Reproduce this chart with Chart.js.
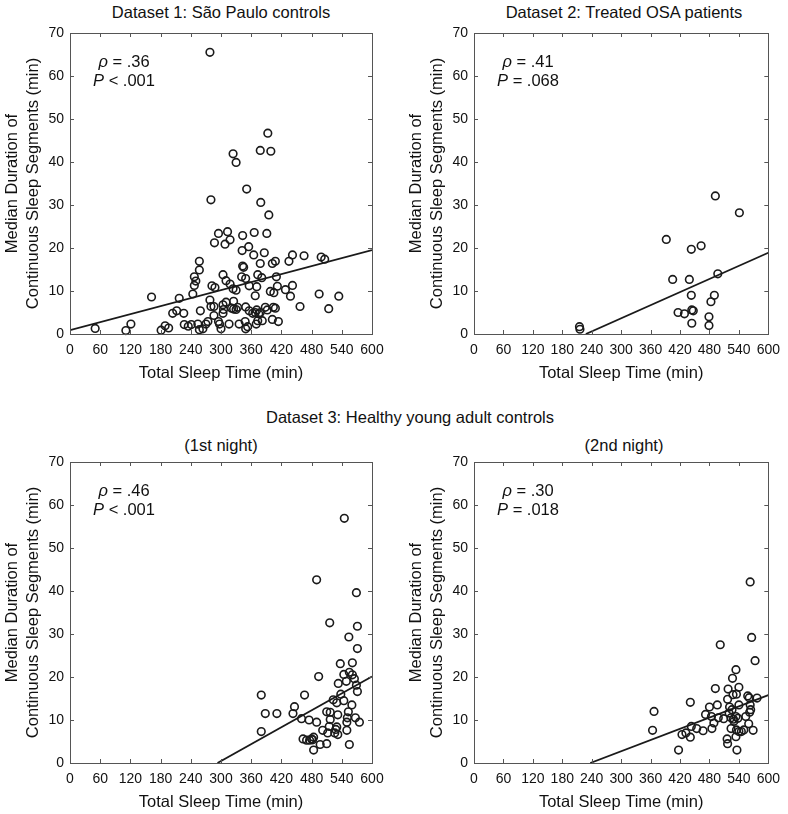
<!DOCTYPE html>
<html>
<head>
<script src="https://cdn.jsdelivr.net/npm/chart.js@4/dist/chart.umd.min.js"></script>
<style>
  body { margin: 0; width: 788px; height: 814px; position: relative; overflow: hidden; background: #fff;
         font-family: "Liberation Sans", Arial, sans-serif; color: #111; }
  canvas { position: absolute; }
  .ttl { position: absolute; font-size: 16.5px; white-space: nowrap; transform: translate(-50%, -50%); }
</style>
</head>
<body>
<div class="ttl" style="left:221px;top:12px">Dataset 1: São Paulo controls</div>
<div class="ttl" style="left:624px;top:12px">Dataset 2: Treated OSA patients</div>
<div class="ttl" style="left:410px;top:417px">Dataset 3: Healthy young adult controls</div>
<div class="ttl" style="left:221px;top:445px">(1st night)</div>
<div class="ttl" style="left:624px;top:445px">(2nd night)</div>
<canvas id="c1" width="392" height="385" style="left:0;top:0"></canvas>
<canvas id="c2" width="384" height="385" style="left:404px;top:0"></canvas>
<canvas id="c3" width="392" height="374" style="left:0;top:440px"></canvas>
<canvas id="c4" width="384" height="374" style="left:404px;top:440px"></canvas>
<script>
// Dataset 1: Sao Paulo controls
const tst1 = [278,393,378,399,324,330,351,280,379,395,295,313,287,308,318,343,366,391,342,355,
  365,386,378,402,408,435,442,465,499,506,343,345,257,257,247,247,244,304,310,318,
  324,330,341,349,356,371,373,381,410,412,398,405,428,442,438,495,534,457,514,368,
  282,288,162,217,212,204,226,121,111,50,181,189,196,227,235,241,254,257,264,270,
  274,259,278,280,286,286,295,297,300,304,304,305,310,316,321,325,325,330,333,336,
  348,349,353,349,356,363,368,371,375,378,370,373,382,388,392,404,408,402,414,250];
const med1 = [65.5,46.7,42.7,42.5,41.9,39.9,33.7,31.2,30.6,27.7,23.4,23.8,21.2,20.9,21.9,22.9,23.6,23.4,19.4,20.3,
  18.4,18.9,16.4,16.4,16.9,16.9,18.4,18.2,17.9,17.4,15.8,15.5,16.9,14.9,13.3,11.3,9.3,13.8,12.4,11.6,
  10.5,10.2,13.3,12.9,11.2,11.0,13.8,13.1,13.3,11.1,9.9,9.6,10.3,11.3,8.8,9.3,8.8,6.4,5.9,8.9,
  11.2,10.8,8.6,8.3,5.4,4.8,4.8,2.3,0.8,1.3,0.9,1.9,1.4,2.2,1.8,2.2,2.3,1.0,1.2,2.3,
  2.9,5.4,7.9,6.4,6.4,4.3,2.9,2.3,1.2,4.8,6.8,5.7,7.4,2.3,6.0,7.6,5.8,5.7,6.2,2.3,
  2.9,1.2,1.7,6.3,5.4,4.8,5.0,5.6,4.7,5.0,2.3,3.1,3.1,6.2,5.6,6.2,6.0,3.4,2.9,12.3];
const fit1X = [0, 600];
const fit1Y = [0.9, 19.5];

// Dataset 2: treated OSA patients
const tst2 = [492,541,392,443,463,405,439,497,443,490,483,416,429,444,447,479,444,479,215,216];
const med2 = [32.1,28.2,22.0,19.7,20.5,12.7,12.7,14.0,9.0,9.0,7.5,5.0,4.7,5.6,5.4,4.0,2.5,2.0,1.7,1.1];
const fit2X = [228, 600];
const fit2Y = [0, 18.9];

// Dataset 3: healthy young adults, 1st night
const tst3a = [545,490,569,516,571,554,571,537,561,544,555,561,565,494,533,549,569,571,380,466,
  538,523,530,544,560,446,443,388,411,510,517,532,553,460,475,490,517,551,567,575,
  550,515,530,502,380,512,526,532,550,463,470,476,480,484,482,497,510,555,484,528];
const med3a = [56.9,42.6,39.6,32.6,31.8,29.3,26.6,23.1,23.3,20.6,21.1,20.5,19.6,20.1,18.5,19.0,18.1,16.6,15.8,15.8,
  16.0,14.7,14.0,14.5,13.5,13.1,11.5,11.5,11.5,11.9,11.8,11.2,11.9,10.3,10.0,9.5,10.1,10.5,10.5,9.5,
  9.5,8.5,8.4,7.6,7.3,7.0,7.0,6.6,7.6,5.6,5.3,5.3,5.6,6.0,5.4,4.3,4.5,4.3,3.0,7.8];
const fit3aX = [293, 600];
const fit3aY = [0, 20.1];

// Dataset 3: healthy young adults, 2nd night
const tst3b = [563,566,502,573,534,527,492,518,540,528,535,517,558,561,577,441,496,540,563,480,
  521,526,520,564,367,472,484,498,509,524,534,538,554,562,489,529,530,560,443,454,
  467,485,524,535,540,545,550,569,364,424,432,441,516,517,534,417,536];
const med3b = [42.1,29.2,27.5,23.8,21.7,19.7,17.3,17.2,17.6,15.9,16.0,14.8,15.6,15.2,15.1,14.1,13.5,13.5,13.5,13.0,
  13.0,12.4,11.6,12.4,12.0,11.3,10.8,10.5,10.3,10.5,10.8,10.4,10.8,11.8,9.3,10.2,9.7,9.1,8.5,8.0,
  7.5,8.0,8.0,7.7,7.3,7.3,7.7,7.6,7.6,6.6,7.0,6.0,5.6,4.5,6.1,3.0,3.0];
const fit3bX = [237, 600];
const fit3bY = [0, 15.8];

const xTicks = { min: 0, max: 600, step: 60 };
const yTicks = { min: 0, max: 70, step: 10 };

Chart.defaults.font.family = '"Liberation Sans", Arial, sans-serif';
Chart.defaults.color = '#111';

const ink = '#1a1a1a';
const boxColor = '#555';

// box around plot with inward ticks on all four sides
const boxPlugin = {
  id: 'box',
  afterDatasetsDraw(chart) {
    const { ctx, chartArea: a, scales } = chart;
    ctx.save();
    ctx.strokeStyle = boxColor;
    ctx.lineWidth = 1;
    ctx.strokeRect(Math.round(a.left) + 0.5, Math.round(a.top) + 0.5,
      Math.round(a.right - a.left), Math.round(a.bottom - a.top));
    ctx.beginPath();
    scales.x.ticks.forEach(t => {
      const px = Math.round(scales.x.getPixelForValue(t.value)) + 0.5;
      ctx.moveTo(px, a.bottom); ctx.lineTo(px, a.bottom - 4);
      ctx.moveTo(px, a.top); ctx.lineTo(px, a.top + 4);
    });
    scales.y.ticks.forEach(t => {
      const py = Math.round(scales.y.getPixelForValue(t.value)) + 0.5;
      ctx.moveTo(a.left, py); ctx.lineTo(a.left + 4, py);
      ctx.moveTo(a.right, py); ctx.lineTo(a.right - 4, py);
    });
    ctx.stroke();
    ctx.restore();
  }
};

// rho / P annotation, first letter italic
const statsPlugin = {
  id: 'stats',
  afterDraw(chart, args, opts) {
    const { ctx, chartArea: a } = chart;
    const cx = a.left + 54;
    const lines = [[opts.rhoSym, opts.rho, 29], [opts.pSym, opts.p, 48]];
    ctx.save();
    ctx.fillStyle = '#111';
    ctx.textBaseline = 'middle';
    lines.forEach(([sym, rest, dy]) => {
      const it = 'italic 16.5px "Liberation Sans", Arial, sans-serif';
      const rg = '16.5px "Liberation Sans", Arial, sans-serif';
      ctx.font = it; const w1 = ctx.measureText(sym).width;
      ctx.font = rg; const w2 = ctx.measureText(rest).width;
      const x0 = cx - (w1 + w2) / 2;
      ctx.font = it; ctx.fillText(sym, x0, a.top + dy);
      ctx.font = rg; ctx.fillText(rest, x0 + w1, a.top + dy);
    });
    ctx.restore();
  }
};

function pts(xs, ys) { return xs.map((x, i) => ({ x: x, y: ys[i] })); }

function makePanel(id, xs, ys, fx, fy, rho, p, padTop, padRight) {
  new Chart(document.getElementById(id), {
    type: 'scatter',
    plugins: [boxPlugin, statsPlugin],
    data: {
      datasets: [
        {
          data: pts(xs, ys),
          pointStyle: 'circle',
          pointRadius: 3.8,
          pointBorderWidth: 1.6,
          pointBorderColor: ink,
          pointBackgroundColor: 'rgba(0,0,0,0)',
          clip: false
        },
        {
          type: 'line',
          data: pts(fx, fy),
          borderColor: ink,
          borderWidth: 1.8,
          pointRadius: 0,
          fill: false
        }
      ]
    },
    options: {
      responsive: false,
      devicePixelRatio: 1,
      animation: false,
      events: [],
      layout: { padding: { top: padTop, right: padRight, left: 0, bottom: 0 } },
      plugins: {
        legend: { display: false },
        tooltip: { enabled: false },
        stats: { rhoSym: 'ρ', rho: ' = ' + rho, pSym: 'P', p: p }
      },
      scales: {
        x: {
          type: 'linear',
          min: xTicks.min, max: xTicks.max,
          grid: { display: false, drawTicks: false },
          border: { display: false },
          ticks: { stepSize: xTicks.step, autoSkip: false, maxRotation: 0, minRotation: 0,
                   padding: 8, font: { size: 14 }, color: '#111' },
          title: { display: true, text: 'Total Sleep Time (min)', font: { size: 16.5 },
                   padding: { top: 0, bottom: 2 }, color: '#111' },
          afterFit(s) { s.height = 51; }
        },
        y: {
          type: 'linear',
          min: yTicks.min, max: yTicks.max,
          grid: { display: false, drawTicks: false },
          border: { display: false },
          ticks: { stepSize: yTicks.step, padding: 6, font: { size: 14 }, color: '#111' },
          title: { display: true, text: ['Median Duration of', 'Continuous Sleep Segments (min)'],
                   font: { size: 16.5, lineHeight: 21 / 16.5 }, padding: { top: 1.5, bottom: 0 }, color: '#111' },
          afterFit(s) { s.width = 70; }
        }
      }
    }
  });
}

makePanel('c1', tst1, med1, fit1X, fit1Y, '.36', ' < .001', 33, 20);
makePanel('c2', tst2, med2, fit2X, fit2Y, '.41', ' = .068', 33, 13);
makePanel('c3', tst3a, med3a, fit3aX, fit3aY, '.46', ' < .001', 22, 20);
makePanel('c4', tst3b, med3b, fit3bX, fit3bY, '.30', ' = .018', 22, 13);
</script>
</body>
</html>
